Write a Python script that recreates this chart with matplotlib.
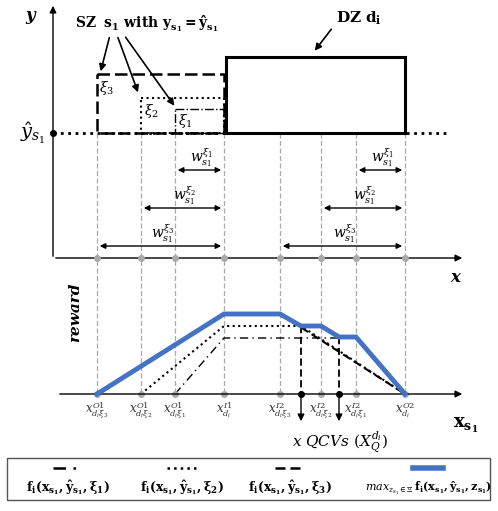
import matplotlib
matplotlib.use("Agg")
import matplotlib.pyplot as plt
from matplotlib.patches import Rectangle

# positions (pixel-space of diagram)
xt = [97, 141, 175, 224, 280, 321, 356, 405]
tick_labels = [r"$x^{O1}_{d_i\xi_3}$", r"$x^{O1}_{d_i\xi_2}$", r"$x^{O1}_{d_i\xi_1}$", r"$x^{I1}_{d_i}$",
               r"$x^{I2}_{d_i\xi_3}$", r"$x^{I2}_{d_i\xi_2}$", r"$x^{I2}_{d_i\xi_1}$", r"$x^{O2}_{d_i}$"]
# reward curves (x, height above axis)
blue_x = [97, 224, 280, 301, 321, 339, 356, 405]
blue_r = [0, 80, 80, 68, 68, 57, 57, 0]
xi2_x = [141, 224, 301, 405]
xi2_r = [0, 68, 68, 0]
xi1_x = [175, 224, 356, 405]
xi1_r = [0, 56, 56, 0]
xi3_x = [280, 405]
xi3_r = [80, 0]
qcv_x = [301, 339]
qcv_r = [68, 57]

plt.rcParams['mathtext.fontset'] = 'dejavuserif'
fig = plt.figure(figsize=(4.98, 5.11), dpi=100)
ax = fig.add_axes([0, 0, 1, 1])
ax.set_xlim(0, 498); ax.set_ylim(511, 0); ax.axis("off")
base = 394
bold = dict(fontweight="bold")

# top axes
ax.annotate("", xy=(53, 3), xytext=(53, 259), arrowprops=dict(arrowstyle="-|>", color="k", lw=1))
ax.annotate("", xy=(465, 258), xytext=(53, 258), arrowprops=dict(arrowstyle="-|>", color="k", lw=1))
ax.text(30, 15, "y", fontsize=12, fontstyle="italic", **bold, ha="center", va="center", family="DejaVu Serif")
ax.text(455, 278, "x", fontsize=12, fontstyle="italic", **bold, ha="center", va="center", family="DejaVu Serif")
# grey verticals
for x in xt:
    ax.plot([x, x], [133, base], color="#aaaaaa", ls=(0, (4, 2)), lw=0.9, zorder=1)
    ax.plot(x, 258, "o", color="#aaaaaa", ms=4, zorder=3)
    ax.plot(x, base, "o", color="#aaaaaa", ms=4, zorder=3)
# boxes
ax.add_patch(Rectangle((97, 74), 127, 59, fill=False, ls=(0, (5, 2)), lw=1.8, ec="k"))
ax.add_patch(Rectangle((141, 98), 83, 35, fill=False, ls=":", lw=1.5, ec="k"))
ax.add_patch(Rectangle((175, 109), 49, 24, fill=False, ls="-.", lw=1, ec="k"))
ax.add_patch(Rectangle((226, 57), 179, 76, fill=False, lw=2.2, ec="k"))
ax.plot([53, 446], [133, 133], color="k", ls=":", lw=2)
ax.plot(53, 133, "ko", ms=4)
ax.text(99, 88, r"$\xi_3$", fontsize=10, va="center")
ax.text(144, 111, r"$\xi_2$", fontsize=10, va="center")
ax.text(178, 121, r"$\xi_1$", fontsize=10, va="center")
ax.text(33, 133, r"$\hat{y}_{s_1}$", fontsize=14, ha="center", va="center")
ax.text(75, 24, r"$\mathbf{SZ}\ \ \mathbf{s_1}$ with $\mathbf{y_{s_1}=\hat{y}_{s_1}}$", fontsize=10, **bold, va="center",
        family="DejaVu Serif")
ax.text(336, 18, r"$\mathbf{DZ}\ \mathbf{d_i}$", fontsize=11, va="center")
arr = dict(arrowstyle="-|>", color="k", lw=1.2)
ax.annotate("", xy=(100, 74), xytext=(110, 35), arrowprops=arr)
ax.annotate("", xy=(139, 95), xytext=(117, 35), arrowprops=arr)
ax.annotate("", xy=(176, 108), xytext=(124, 35), arrowprops=arr)
ax.annotate("", xy=(313, 53), xytext=(333, 27), arrowprops=arr)
# width arrows
for (l, r, y, lab) in [(175, 224, 170, 1), (356, 405, 170, 1), (141, 224, 208, 2), (321, 405, 208, 2),
                       (97, 224, 246, 3), (280, 405, 246, 3)]:
    ax.annotate("", xy=(l, y), xytext=(r, y), arrowprops=dict(arrowstyle="<|-|>", color="k", lw=1, mutation_scale=8))
    ax.text((l + r) / 2 + 2, y - 12, r"$w_{s_1}^{\xi_%d}$" % lab, fontsize=10, ha="center", va="center")

# bottom axis
ax.annotate("", xy=(465, base), xytext=(57, base), arrowprops=dict(arrowstyle="-|>", color="k", lw=1))
ax.text(75, 312, "reward", rotation=90, fontsize=11, fontstyle="italic", **bold, ha="center", va="center", family="DejaVu Serif")
ax.text(466, 425, r"$\mathbf{x_{s_1}}$", fontsize=13, ha="center", va="center")
for x, t in zip(xt, tick_labels):
    ax.text(x, 410, t, fontsize=8.5, ha="center", va="center", color="#333333")
yb = lambda rs: [base - r for r in rs]
ax.plot(xi1_x, yb(xi1_r), color="k", ls=(0, (6, 3, 1, 3)), lw=1)
ax.plot(xi2_x, yb(xi2_r), color="k", ls=":", lw=1.5)
ax.plot(xi3_x, yb(xi3_r), color="k", ls=(0, (4, 2)), lw=1.5)
ax.plot(blue_x, yb(blue_r), color="#4472c4", lw=3.5, zorder=4, solid_joinstyle="miter")
for x, r in zip(qcv_x, qcv_r):
    ax.plot([x, x], [base - r, base], color="k", ls=(0, (4, 2)), lw=1.3)
    ax.annotate("", xy=(x, 424), xytext=(x, base), arrowprops=dict(arrowstyle="-|>", color="k", lw=1))
    ax.plot(x, base, "ko", ms=4, zorder=5)
ax.text(340, 442, r"$x\ QCVs\ (X_Q^{d_i})$", fontsize=11, ha="center", va="center", family="DejaVu Serif")

# legend
ax.add_patch(Rectangle((7, 458), 483, 42, fill=False, ec="#555555", lw=1))
leg = [((0, (5, 3, 1, 3)), "k", 1.8, r"$\mathbf{f_i(x_{s_1},\hat{y}_{s_1},\xi_1)}$", 68),
       (":", "k", 1.8, r"$\mathbf{f_i(x_{s_1},\hat{y}_{s_1},\xi_2)}$", 182),
       ((0, (4, 2)), "k", 1.8, r"$\mathbf{f_i(x_{s_1},\hat{y}_{s_1},\xi_3)}$", 290),
       ("-", "#4472c4", 4, r"$max_{z_{s_1}\in\Xi}\,\mathbf{f_i(x_{s_1},\hat{y}_{s_1},z_{s_1})}$", 428)]
for ls, c, lw, lab, cx in leg:
    ax.plot([cx - 15, cx + 15], [468, 468], color=c, ls=ls, lw=lw)
    ax.text(cx, 488, lab, fontsize=8 if cx > 400 else 9, ha="center", va="center")

fig.savefig("out.png", dpi=100)
